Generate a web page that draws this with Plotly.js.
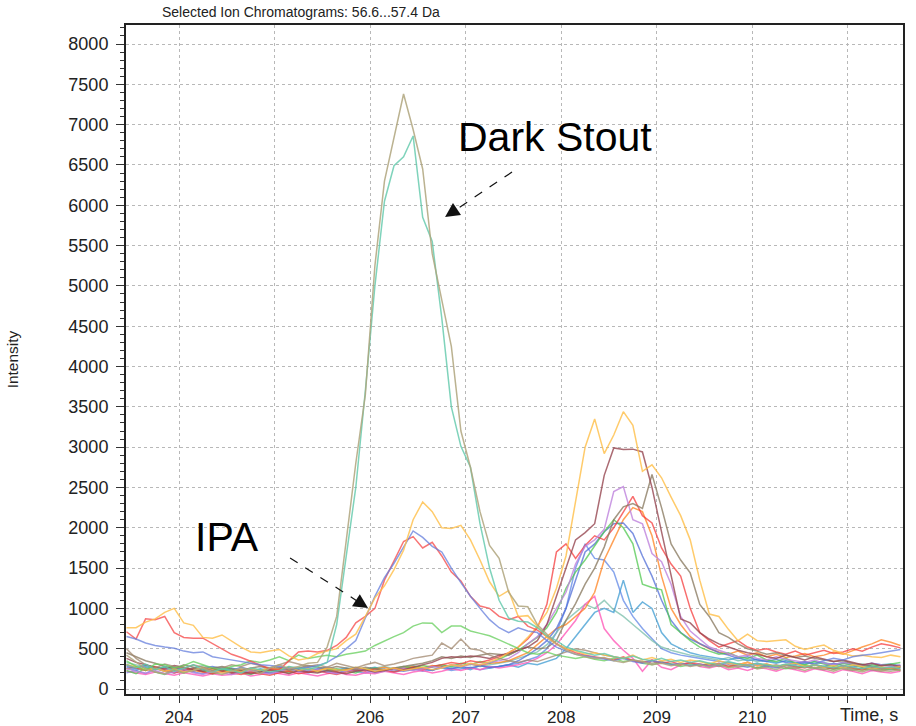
<!DOCTYPE html>
<html>
<head>
<meta charset="utf-8">
<script src="https://cdn.plot.ly/plotly-3.0.1.min.js"></script>
<style>html,body{margin:0;padding:0;background:#fff;}#chart{width:916px;height:726px;}</style>
</head>
<body>
<div id="chart"></div>
<script>
// Retention time (s) of each scan
const times = [
  203.45,203.55,203.65,203.75,203.85,203.95,204.05,204.15,204.25,204.35,
  204.45,204.55,204.65,204.75,204.85,204.95,205.05,205.15,205.25,205.35,
  205.45,205.55,205.65,205.75,205.85,205.95,206.05,206.15,206.25,206.35,
  206.45,206.55,206.65,206.75,206.85,206.95,207.05,207.15,207.25,207.35,
  207.45,207.55,207.65,207.75,207.85,207.95,208.05,208.15,208.25,208.35,
  208.45,208.55,208.65,208.75,208.85,208.95,209.05,209.15,209.25,209.35,
  209.45,209.55,209.65,209.75,209.85,209.95,210.05,210.15,210.25,210.35,
  210.45,210.55,210.65,210.75,210.85,210.95,211.05,211.15,211.25,211.35,
  211.45,211.55
];

// Intensities (counts), one array per sample
const stoutA = [
  420,330,250,210,190,240,200,230,260,210,
  180,220,260,240,190,260,300,250,280,320,
  330,520,900,1840,2800,3650,5250,6300,6830,7380,
  6940,6450,5400,4840,4250,3200,2750,2200,1780,1620,
  1200,1030,1020,800,680,560,480,430,400,380,
  390,350,330,360,340,300,320,290,310,280,
  300,270,310,260,280,300,250,270,240,290,
  260,230,270,250,220,260,240,210,250,230,
  220,240];
const stoutB = [
  300,260,310,240,280,220,260,300,240,210,
  250,230,200,260,240,210,230,280,260,240,
  280,330,800,1650,2500,3700,5000,6050,6490,6600,
  6860,5850,5550,4600,3500,3010,2750,2050,1500,1100,
  880,840,830,760,660,600,520,480,450,420,
  440,400,380,410,370,350,380,340,360,330,
  350,320,300,340,310,290,320,300,280,310,
  290,270,300,280,260,290,270,250,280,260,
  270,250];
const ipaOrange = [
  760,760,830,870,950,1000,820,790,640,630,
  670,590,520,460,450,470,490,410,360,380,
  440,470,500,600,680,900,1130,1280,1480,1720,
  2100,2320,2200,2000,1990,2030,1850,1600,1330,1150,
  1220,900,910,780,640,560,500,470,430,450,
  420,400,380,420,360,390,350,370,330,360,
  340,310,350,320,300,330,290,310,280,300,
  320,280,300,270,290,260,300,280,250,270,
  260,280];
const ipaBlue = [
  650,620,570,540,520,505,470,450,460,400,
  380,360,340,320,300,290,280,260,250,270,
  290,330,400,500,600,880,1150,1380,1560,1760,
  1960,1880,1770,1700,1500,1320,1150,1000,860,760,
  700,760,720,700,600,520,470,430,410,390,
  370,350,380,340,320,350,330,300,320,290,
  310,280,300,320,290,270,300,280,260,290,
  300,330,310,350,380,360,400,420,430,450,
  470,490];
const ipaRed = [
  710,620,870,860,900,700,640,630,630,560,
  490,430,390,340,290,250,240,350,460,470,
  460,480,540,640,820,900,1000,1350,1600,1830,
  1890,1750,1820,1650,1450,1340,1150,1030,1000,900,
  860,900,780,730,650,560,500,450,420,400,
  380,360,400,350,330,360,320,340,300,330,
  310,290,320,280,300,330,290,310,270,300,
  280,260,300,270,250,290,260,240,270,250,
  260,240];
const greenLow = [
  350,280,230,310,300,260,290,340,300,260,
  240,280,300,350,330,360,400,350,420,380,
  400,420,400,430,450,470,540,600,650,700,
  780,820,815,700,780,780,720,690,660,610,
  560,500,450,430,460,420,400,380,400,370,
  350,380,340,360,320,300,330,310,280,300,
  290,320,300,270,310,290,260,300,280,250,
  270,300,260,280,240,270,250,230,260,240,
  250,230];
const brownLow = [
  500,380,300,260,310,280,250,300,270,230,
  260,300,280,320,290,260,300,340,310,280,
  300,270,320,290,260,300,330,290,310,340,
  380,400,420,570,500,620,500,480,420,380,
  350,330,360,340,380,420,460,500,480,450,
  420,400,380,360,340,320,340,310,300,320,
  290,310,280,300,270,290,260,280,300,270,
  250,280,260,240,270,250,230,260,240,220,
  250,230];
const orangeHigh = [
  300,280,240,260,220,250,210,230,270,240,
  200,230,210,250,230,260,240,280,230,250,
  220,260,240,230,270,250,220,240,260,230,
  250,270,240,260,300,280,320,300,340,380,
  450,520,640,780,950,1250,1650,2350,3000,3350,
  2920,3150,3440,3270,2700,2780,2620,2380,2150,1850,
  1350,930,900,740,600,680,600,590,600,610,
  530,490,520,545,480,440,410,420,400,390,
  420,400];
const maroon = [
  380,330,300,270,250,290,270,240,220,250,
  230,200,220,190,210,240,220,190,230,210,
  200,230,210,190,220,240,210,230,260,240,
  270,300,330,380,400,390,410,400,380,420,
  440,480,520,600,800,1150,1500,1850,1940,2050,
  2650,2990,2970,2975,2940,2500,1950,1400,870,820,
  700,620,560,520,480,450,430,400,380,420,
  390,360,400,370,340,360,330,300,320,290,
  300,280];
const greyBrown = [
  450,400,350,320,280,250,300,270,240,260,
  280,250,230,260,280,250,270,240,260,290,
  270,250,280,260,240,270,250,230,260,280,
  300,320,350,400,380,410,390,420,440,430,
  420,480,520,500,510,600,850,1060,1300,1500,
  1760,2100,2260,2300,2240,2660,2250,1800,1600,1440,
  1050,900,700,640,560,500,470,430,450,420,
  390,410,380,360,340,350,320,300,280,270,
  260,270];
const purple = [
  250,220,200,230,190,210,240,200,180,220,
  200,180,210,230,200,190,220,250,210,230,
  240,210,190,220,250,230,200,220,240,260,
  230,250,280,260,300,280,310,300,330,350,
  380,450,560,650,800,1000,1200,1550,1770,1850,
  1980,2450,2510,2100,2050,1680,1580,1300,900,720,
  620,520,480,440,400,420,380,360,400,370,
  350,330,360,320,300,330,310,290,320,300,
  280,300];
const redLate = [
  300,260,230,280,240,200,230,250,210,190,
  220,200,180,210,190,170,200,220,190,210,
  230,200,180,210,240,220,250,230,210,240,
  260,240,280,300,330,310,350,330,360,400,
  450,520,620,760,1050,1700,1800,1620,1780,1900,
  1850,2000,2200,2390,2150,2060,1750,1550,1400,1000,
  700,600,520,560,600,520,480,500,460,430,
  470,420,450,480,440,460,500,470,520,560,
  540,510];
const greenLate = [
  230,190,260,210,180,230,200,250,220,190,
  210,240,200,180,220,250,230,200,260,240,
  210,230,250,220,200,240,260,230,250,280,
  260,290,270,300,280,320,300,340,320,370,
  420,480,560,640,760,950,1250,1450,1600,1780,
  1950,2100,2000,1800,1300,1260,1230,800,700,600,
  520,470,430,450,400,380,420,360,340,380,
  320,300,340,310,280,320,300,270,300,290,
  310,330];
const blueLate = [
  280,250,300,260,230,270,240,220,260,280,
  250,230,270,240,220,200,230,260,240,220,
  250,270,240,220,260,240,210,230,250,220,
  240,260,230,270,250,280,260,290,270,280,
  300,350,420,500,600,750,1000,1350,1700,1800,
  1950,2050,2060,1930,1650,1400,1100,850,700,620,
  560,500,450,420,380,400,360,340,370,330,
  310,340,300,280,320,290,270,300,280,260,
  270,290];
const blueEarly = [
  200,230,190,250,220,200,240,210,190,230,
  210,250,220,200,230,190,210,240,220,200,
  230,210,190,240,220,200,230,250,210,230,
  250,220,240,260,230,250,270,240,260,280,
  300,320,360,400,500,700,1000,1500,1800,1620,
  1600,1450,1100,900,750,620,500,450,420,400,
  380,360,340,330,310,300,320,290,280,300,
  270,290,260,280,250,270,240,260,230,250,
  240,260];
const pink = [
  220,200,180,210,190,170,200,180,160,190,
  170,180,200,160,180,210,190,170,200,180,
  160,190,210,180,170,200,190,220,200,180,
  210,230,200,220,250,230,260,240,280,260,
  280,300,330,380,450,550,700,850,1050,1150,
  750,600,480,380,220,360,270,240,300,330,
  280,260,290,240,260,230,270,250,220,260,
  240,210,250,230,200,240,220,190,230,210,
  200,220];
const lightBlue = [
  260,230,280,250,270,240,220,260,240,210,
  240,260,230,210,250,230,260,240,220,250,
  230,210,240,260,230,250,270,240,220,260,
  240,260,230,280,250,270,240,290,260,280,
  300,270,320,300,340,380,500,650,800,950,
  1000,950,1350,950,1080,1000,700,560,500,450,
  420,400,380,360,390,350,370,340,320,350,
  330,310,340,320,300,330,310,290,320,300,
  310,290];
const tealGrey = [
  330,300,270,240,280,250,230,260,290,250,
  270,240,220,250,230,260,240,220,250,270,
  240,260,230,250,270,240,260,280,250,270,
  290,260,280,300,270,290,310,280,300,320,
  340,380,420,460,550,700,850,950,1050,1000,
  1100,980,900,800,700,600,520,480,450,420,
  400,380,360,390,350,370,340,360,330,350,
  320,340,310,330,300,320,290,310,280,300,
  290,270];
const darkOrange = [
  250,280,230,260,220,240,270,230,210,250,
  230,210,240,220,200,230,250,220,240,210,
  230,250,220,240,260,230,250,270,240,260,
  280,260,290,270,300,280,310,290,320,330,
  350,400,450,550,650,750,800,900,1000,1200,
  1600,1850,2100,2250,2200,1900,1400,1000,800,650,
  560,500,460,430,470,420,450,400,430,390,
  410,440,400,420,460,430,480,520,560,610,
  580,540];

const xTickVals = [204, 205, 206, 207, 208, 209, 210, 211];
const xTickText = ['204', '205', '206', '207', '208', '209', '210', ''];

const series = [
  {y: blueEarly,  c: 'rgba(95,135,230,0.75)'},
  {y: tealGrey,   c: 'rgba(120,190,170,0.75)'},
  {y: lightBlue,  c: 'rgba(60,155,210,0.75)'},
  {y: pink,       c: 'rgba(255,90,185,0.8)'},
  {y: darkOrange, c: 'rgba(255,130,30,0.75)'},
  {y: blueLate,   c: 'rgba(80,110,215,0.75)'},
  {y: greenLate,  c: 'rgba(80,200,80,0.75)'},
  {y: redLate,    c: 'rgba(245,60,60,0.75)'},
  {y: purple,     c: 'rgba(190,130,220,0.8)'},
  {y: greyBrown,  c: 'rgba(140,125,100,0.8)'},
  {y: maroon,     c: 'rgba(150,70,80,0.8)'},
  {y: orangeHigh, c: 'rgba(255,190,70,0.8)'},
  {y: brownLow,   c: 'rgba(160,135,110,0.75)'},
  {y: greenLow,   c: 'rgba(100,205,90,0.75)'},
  {y: ipaRed,     c: 'rgba(245,70,70,0.75)'},
  {y: ipaBlue,    c: 'rgba(100,125,220,0.75)'},
  {y: ipaOrange,  c: 'rgba(255,190,70,0.8)'},
  {y: stoutB,     c: 'rgba(95,200,170,0.8)'},
  {y: stoutA,     c: 'rgba(175,165,125,0.85)'}
];

const traces = series.map(s => ({
  type: 'scatter', mode: 'lines', x: times, y: s.y,
  line: {color: s.c, width: 1.5}, hoverinfo: 'x+y'
}));

const axisCommon = {
  showline: true, linecolor: '#222', linewidth: 2, mirror: true,
  ticks: 'outside', tickcolor: '#333', tickwidth: 1,
  showgrid: true, gridcolor: '#b8b8b8', griddash: 'dot', gridwidth: 1,
  zeroline: false
};

const layout = {
  width: 916, height: 726,
  margin: {l: 126, r: 13, t: 25, b: 32, pad: 0},
  paper_bgcolor: '#fff', plot_bgcolor: '#fff',
  showlegend: false,
  font: {family: 'Liberation Sans, Arial, sans-serif', color: '#222'},
  title: {text: 'Selected Ion Chromatograms: 56.6...57.4 Da', xref: 'container', yref: 'container',
          x: 162/916, xanchor: 'left', y: 1 - 12/726, yanchor: 'middle', font: {size: 14, color: '#222'}},
  xaxis: Object.assign({}, axisCommon, {
    range: [203.445, 211.577], tickmode: 'array', tickvals: xTickVals, ticktext: xTickText,
    ticklen: 7, ticklabelstandoff: 0, tickfont: {size: 17, color: '#222'},
    minor: {tickmode: 'linear', tick0: 204, dtick: 0.2, ticks: 'outside', ticklen: 4, tickcolor: '#333', showgrid: false}
  }),
  yaxis: Object.assign({}, axisCommon, {
    range: [-62, 8236], tickmode: 'linear', tick0: 0, dtick: 500,
    ticklen: 8, ticklabelstandoff: 4, tickfont: {size: 18, color: '#222'},
    title: {text: 'Intensity', font: {size: 15.5, color: '#222'}, standoff: 46},
    minor: {tickmode: 'linear', tick0: 0, dtick: 100, ticks: 'outside', ticklen: 4, tickcolor: '#333', showgrid: false}
  }),
  shapes: [
    {type: 'line', xref: 'x', yref: 'y', x0: 207.485, y0: 6412, x1: 206.905, y1: 5951,
     line: {color: '#111', width: 1.2, dash: 'dash'}},
    {type: 'line', xref: 'x', yref: 'y', x0: 205.162, y0: 1625, x1: 205.855, y1: 1099,
     line: {color: '#111', width: 1.2, dash: 'dash'}}
  ],
  annotations: [
    {text: 'Dark Stout', xref: 'x', yref: 'y', x: 207.935, y: 6847, showarrow: false,
     font: {size: 41, color: '#000'}, xanchor: 'center', yanchor: 'middle'},
    {text: 'IPA', xref: 'x', yref: 'y', x: 204.502, y: 1885, showarrow: false,
     font: {size: 41, color: '#000'}, xanchor: 'center', yanchor: 'middle'},
    {text: '', xref: 'x', yref: 'y', x: 206.784, y: 5854, ax: 11.6, ay: -7.8,
     showarrow: true, arrowhead: 2, arrowsize: 2.4, arrowwidth: 1.2, arrowcolor: '#111'},
    {text: '', xref: 'x', yref: 'y', x: 205.978, y: 1005, ax: -11.8, ay: -7.6,
     showarrow: true, arrowhead: 2, arrowsize: 2.4, arrowwidth: 1.2, arrowcolor: '#111'},
    {text: 'Time, s', xref: 'paper', yref: 'paper', x: 1, y: 0, xanchor: 'right', yanchor: 'top',
     xshift: -3, yshift: -9, showarrow: false, font: {size: 18, color: '#222'}}
  ]
};

Plotly.newPlot('chart', traces, layout, {displayModeBar: false, staticPlot: true});
</script>
</body>
</html>
